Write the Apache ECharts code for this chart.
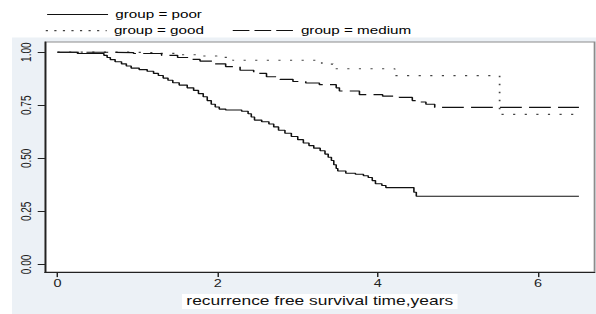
<!DOCTYPE html>
<html>
<head>
<meta charset="utf-8">
<script src="https://cdn.jsdelivr.net/npm/echarts@6/dist/echarts.min.js"></script>
<style>
html,body{margin:0;padding:0;background:#fff;overflow:hidden;}
#main{width:411px;height:314px;transform:scaleX(1.4501);transform-origin:0 0;}
</style>
</head>
<body>
<div id="main"></div>
<script>
// Kaplan-Meier estimates: [time (years), survival]
const poor = [[0,1.0],[0.25,0.994],[0.58,0.985],[0.62,0.975],[0.66,0.965],[0.72,0.955],[0.8,0.945],[0.86,0.935],[0.92,0.925],[1.02,0.918],[1.12,0.91],[1.2,0.9],[1.26,0.89],[1.32,0.878],[1.38,0.868],[1.44,0.856],[1.52,0.845],[1.62,0.832],[1.7,0.82],[1.76,0.805],[1.82,0.79],[1.87,0.772],[1.92,0.755],[1.97,0.742],[2.02,0.732],[2.1,0.728],[2.3,0.722],[2.38,0.71],[2.42,0.695],[2.46,0.68],[2.55,0.672],[2.64,0.662],[2.7,0.648],[2.76,0.632],[2.84,0.618],[2.92,0.603],[3.0,0.588],[3.07,0.572],[3.14,0.56],[3.2,0.548],[3.28,0.536],[3.34,0.52],[3.38,0.505],[3.42,0.49],[3.45,0.47],[3.48,0.452],[3.5,0.44],[3.6,0.43],[3.72,0.425],[3.82,0.418],[3.88,0.41],[3.93,0.395],[3.97,0.38],[4.05,0.372],[4.1,0.362],[4.42,0.362],[4.45,0.34],[4.48,0.321],[6.51,0.321]];
const good = [[0,1.0],[0.9,0.998],[1.2,0.994],[1.5,0.988],[1.78,0.982],[1.99,0.976],[2.19,0.962],[3.3,0.944],[3.44,0.922],[4.21,0.89],[5.52,0.707],[6.51,0.707]];
const medium = [[0,1.0],[0.55,0.998],[0.95,0.994],[1.3,0.985],[1.5,0.975],[1.65,0.966],[1.78,0.958],[1.95,0.945],[2.1,0.932],[2.28,0.915],[2.45,0.9],[2.61,0.884],[2.78,0.872],[2.94,0.862],[3.1,0.855],[3.27,0.847],[3.48,0.832],[3.52,0.817],[3.77,0.80],[4.06,0.793],[4.27,0.787],[4.43,0.772],[4.52,0.765],[4.6,0.755],[4.71,0.74],[6.51,0.74]];
const xTicks = [0, 2, 4, 6];
const yTicks = [0, 0.25, 0.5, 0.75, 1];
const seriesNames = ['group = poor', 'group = good', 'group = medium'];
const xTitle = 'recurrence free survival time,years';

const FONT = "'Liberation Sans', Arial, sans-serif";
const chart = echarts.init(document.getElementById('main'), null, {renderer: 'svg'});

const legendBase = {
  padding: 0, itemWidth: 42, itemHeight: 14, selectedMode: false,
  itemStyle: {opacity: 0, borderWidth: 0},
  textStyle: {fontSize: 10.5, color: '#000', fontFamily: FONT}
};

chart.setOption({
  animation: false,
  graphic: [{
    type: 'rect', z: -100, silent: true,
    shape: {x: 8.3, y: 37.5, width: 411, height: 280},
    style: {fill: '#ecf1f6'}
  }],
  legend: [
    Object.assign({}, legendBase, {data: [seriesNames[0]], left: 32, top: 9, lineStyle: {width: 1, color: '#111'}}),
    Object.assign({}, legendBase, {data: [seriesNames[1]], left: 31, top: 25, lineStyle: {width: 1.1, type: [1.5, 4.4], color: '#444'}}),
    Object.assign({}, legendBase, {data: [seriesNames[2]], left: 160, top: 25, lineStyle: {width: 1, type: [11.5, 3.5], color: '#111'}})
  ],
  grid: {
    left: 31, right: 1, top: 42, bottom: 32,
    show: true, backgroundColor: '#fff', borderColor: '#8c8c8c', borderWidth: 1.2
  },
  xAxis: {
    type: 'value', min: -0.156, max: 6.705,
    axisLine: {show: true, onZero: false, lineStyle: {color: '#222', width: 1.1}},
    axisTick: {show: true, length: 5, customValues: xTicks, lineStyle: {color: '#222'}},
    axisLabel: {customValues: xTicks, fontSize: 10, color: '#222', fontFamily: FONT, margin: 7},
    splitLine: {show: false},
    name: xTitle, nameLocation: 'middle', nameGap: 18,
    nameTextStyle: {fontSize: 12, color: '#111', fontFamily: FONT, backgroundColor: '#fff', padding: [1, 3, 2, 3]}
  },
  yAxis: {
    type: 'value', min: -0.036, max: 1.048,
    axisLine: {show: true, onZero: false, lineStyle: {color: '#222', width: 1.1}},
    axisTick: {show: true, length: 5, customValues: yTicks, lineStyle: {color: '#222'}},
    axisLabel: {customValues: yTicks, rotate: 90, fontSize: 10, color: '#222', fontFamily: FONT, margin: 8,
      formatter: v => v.toFixed(2)},
    splitLine: {show: false}
  },
  series: [
    {
      name: seriesNames[0], type: 'line', step: 'end', symbol: 'none', data: poor,
      lineStyle: {color: '#111', width: 1.1, type: 'solid'},
      itemStyle: {color: '#111'},
      markLine: {
        silent: true, symbol: 'none', label: {show: false}, z: -1,
        lineStyle: {color: '#e8edf3', width: 1, type: 'solid'},
        data: yTicks.map(v => ({yAxis: v}))
      }
    },
    {
      name: seriesNames[1], type: 'line', step: 'end', symbol: 'none', data: good,
      lineStyle: {color: '#444', width: 1.2, type: [1.5, 6.5]},
      itemStyle: {color: '#444'}
    },
    {
      name: seriesNames[2], type: 'line', step: 'end', symbol: 'none', data: medium,
      lineStyle: {color: '#111', width: 1.1, type: [15, 5]},
      itemStyle: {color: '#111'}
    }
  ]
});
</script>
</body>
</html>
